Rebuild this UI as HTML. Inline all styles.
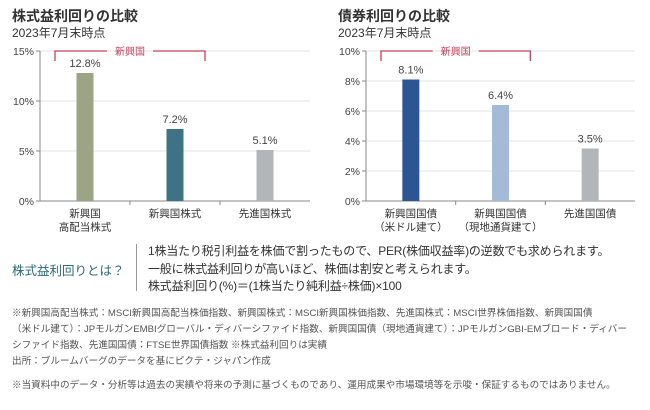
<!DOCTYPE html>
<html><head><meta charset="utf-8"><style>
body{margin:0;width:650px;height:410px;background:#fff;font-family:"Liberation Sans","Noto Sans CJK JP",sans-serif;color:#333;position:relative;overflow:hidden}
.t{position:absolute;white-space:nowrap}
</style></head><body>
<div class="t" style="left:12px;top:6px;font-size:14px;font-weight:bold">株式益利回りの比較</div>
<div class="t" style="left:12px;top:24px;font-size:12px">2023年7月末時点</div>
<div class="t" style="left:338px;top:6px;font-size:14px;font-weight:bold">債券利回りの比較</div>
<div class="t" style="left:338px;top:24px;font-size:12px">2023年7月末時点</div>
<svg id="c" width="650" height="240" style="position:absolute;left:0;top:0"></svg>
<div class="t" style="left:12px;top:260px;font-size:12.5px;color:#2b6a7c">株式益利回りとは？</div>
<div style="position:absolute;left:136px;top:244px;width:1px;height:47px;background:#999"></div>
<div class="t" style="left:148px;top:243px;font-size:12px;line-height:17.5px;letter-spacing:-0.2px">1株当たり税引利益を株価で割ったもので、PER(株価収益率)の逆数でも求められます。<br>一般に株式益利回りが高いほど、株価は割安と考えられます。<br>株式益利回り(%)＝(1株当たり純利益÷株価)×100</div>
<div class="t" style="left:12px;top:306px;font-size:9.6px;line-height:16px;color:#555">※新興国高配当株式：MSCI新興国高配当株価指数、新興国株式：MSCI新興国株価指数、先進国株式：MSCI世界株価指数、新興国国債<br>（米ドル建て）：JPモルガンEMBIグローバル・ディバーシファイド指数、新興国国債（現地通貨建て）：JPモルガンGBI-EMブロード・ディバー<br>シファイド指数、先進国国債：FTSE世界国債指数 ※株式益利回りは実績<br>出所：ブルームバーグのデータを基にピクテ・ジャパン作成</div>
<div class="t" style="left:12px;top:377px;font-size:9.6px;color:#555">※当資料中のデータ・分析等は過去の実績や将来の予測に基づくものであり、運用成果や市場環境等を示唆・保証するものではありません。</div>
<script>
const leftCats=[["新興国","高配当株式"],["新興国株式"],["先進国株式"]];
const leftVals=[12.8,7.2,5.1];
const leftTicks=[0,5,10,15];
const rightCats=[["新興国国債","（米ドル建て）"],["新興国国債","（現地通貨建て）"],["先進国国債"]];
const rightVals=[8.1,6.4,3.5];
const rightTicks=[0,2,4,6,8,10];
const svg=document.getElementById('c');const NS='http://www.w3.org/2000/svg';
function mk(t,a,txt){const e=document.createElementNS(NS,t);for(const k in a)e.setAttribute(k,a[k]);if(txt!==undefined)e.textContent=txt;svg.appendChild(e);return e;}
function chart(x0,x1,cats,vals,ticks,colors,pre){
 const yT=51,yB=201,max=ticks[ticks.length-1];
 const y=v=>yB-(v/max)*(yB-yT);
 const bw=(x1-x0)/cats.length;
 ticks.forEach(t=>{
  if(t>0){const g=mk('line',{x1:x0,x2:x1,y1:y(t),y2:y(t),stroke:'#e3e3e3','stroke-width':1});}
  const l=mk('text',{x:x0-6,y:y(t)+4,'font-size':10.5,'text-anchor':'end',fill:'#444'},t+'%');
  
  mk('line',{x1:x0-4,x2:x0,y1:y(t),y2:y(t),stroke:'#888'});
 });
 mk('line',{x1:x0,x2:x0,y1:yT,y2:yB,stroke:'#888'});
 mk('line',{x1:x0,x2:x1,y1:yB,y2:yB,stroke:'#888'});
 cats.forEach((c,i)=>{
  const cx=x0+bw*(i+0.5);
  if(i>0)mk('line',{x1:x0+bw*i,x2:x0+bw*i,y1:yB,y2:yB+4,stroke:'#888'});
  const r=mk('rect',{x:cx-8.5,y:y(vals[i]),width:17,height:yB-y(vals[i]),fill:colors[i]});
  
  const v=mk('text',{x:cx,y:y(vals[i])-6,'font-size':11,'text-anchor':'middle',fill:'#444'},vals[i].toFixed(1)+'%');
  
  c.forEach((s,j)=>{const t=mk('text',{x:cx,y:217+j*13.5,'font-size':10.5,'text-anchor':'middle',fill:'#333'},s);
   });
 });
 const bx0=x0+15,bx1=x0+bw*2-15,mid=(bx0+bx1)/2;
 const p=mk('path',{d:`M${bx0} 61V51H${mid-23}M${mid+23} 51H${bx1}V61`,stroke:'#c8405a','stroke-width':1.3,fill:'none'});
 
 const bt=mk('text',{x:mid,y:55,'font-size':10,'text-anchor':'middle',fill:'#c8405a'},'新興国');
 
}
chart(40,310,leftCats,leftVals,leftTicks,['#9ba586','#3d7385','#b3b6b9'],'left');
chart(366,635,rightCats,rightVals,rightTicks,['#2e5593','#a3bad8','#b3b6b9'],'right');
</script>
</body></html>
